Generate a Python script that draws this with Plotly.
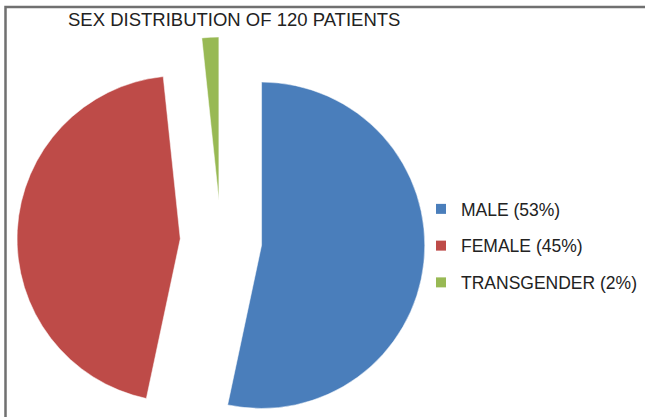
import plotly.graph_objects as go

# patients by sex (n = 120)
labels = ["MALE (53%)", "FEMALE (45%)", "TRANSGENDER (2%)"]
counts = [64, 54, 2]
colors = ["#4A7EBB", "#BE4B48", "#98B954"]
pulls = [0.25, 0.25, 0.25]

# the original chart is cropped at the bottom, so the figure runs past the window
W, H = 645, 450

fig = go.Figure()
fig.add_trace(go.Pie(
    labels=labels,
    values=counts,
    pull=pulls,
    sort=False,
    direction="clockwise",
    rotation=0,
    textinfo="none",
    showlegend=False,
    marker=dict(colors=colors, line=dict(color="white", width=0.5)),
    domain=dict(x=[17 / W, 425 / W], y=[1 - 445 / H, 1 - 37 / H]),
))

# legend entries (small squares, like the spreadsheet legend)
for i in range(len(labels)):
    fig.add_trace(go.Scatter(
        x=[None], y=[None],
        mode="markers",
        name=labels[i],
        legendgroup=labels[i],
        marker=dict(symbol="square", size=10, color=colors[i]),
        hoverinfo="skip",
    ))

frame_x = 5.5 / W
frame_top = 1 - 7 / H

fig.update_layout(
    width=W,
    height=H,
    autosize=False,
    margin=dict(l=0, r=0, t=0, b=0, pad=0),
    paper_bgcolor="white",
    plot_bgcolor="rgba(0,0,0,0)",
    font=dict(family="Liberation Sans, Arial, sans-serif", color="#222222"),
    xaxis=dict(visible=False),
    yaxis=dict(visible=False),
    title=dict(
        text="SEX DISTRIBUTION OF 120 PATIENTS",
        font=dict(size=18.5, color="#222222"),
        xref="paper", yref="paper",
        x=68 / W, xanchor="left",
        y=1 - 20 / H, yanchor="middle",
    ),
    legend=dict(
        x=421 / W, xanchor="left",
        y=1 - 246 / H, yanchor="middle",
        font=dict(size=17.5, color="#222222"),
        bgcolor="rgba(0,0,0,0)",
        traceorder="grouped",
        tracegroupgap=11,
    ),
    # chart frame (only top and left edges are inside the picture)
    shapes=[
        dict(type="path", xref="paper", yref="paper",
             path=f"M {frame_x},0 L {frame_x},{frame_top} L 1,{frame_top}",
             line=dict(color="#707070", width=2.5), layer="above"),
    ],
)

fig.write_html(
    "out.html",
    config=dict(displayModeBar=False),
    post_script="document.body.style.margin='0';"
                "document.body.style.overflow='hidden';"
                "document.documentElement.style.overflow='hidden';",
)
